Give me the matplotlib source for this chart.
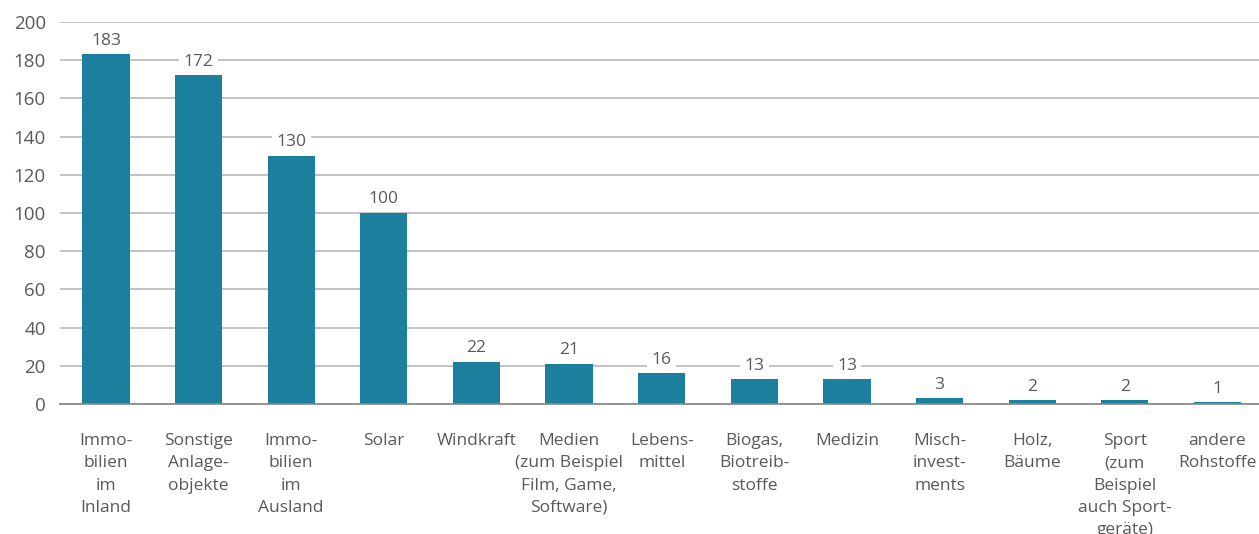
import matplotlib.pyplot as plt
import numpy as np

plt.rcParams['font.family'] = ['Open Sans', 'DejaVu Sans']

# Daten
kategorien = [
    "Immo-\nbilien\nim\nInland",
    "Sonstige\nAnlage-\nobjekte",
    "Immo-\nbilien\nim\nAusland",
    "Solar",
    "Windkraft",
    "Medien\n(zum Beispiel\nFilm, Game,\nSoftware)",
    "Lebens-\nmittel",
    "Biogas,\nBiotreib-\nstoffe",
    "Medizin",
    "Misch-\ninvest-\nments",
    "Holz,\nBäume",
    "Sport\n(zum\nBeispiel\nauch Sport-\ngeräte)",
    "andere\nRohstoffe",
]
werte = [183, 172, 130, 100, 22, 21, 16, 13, 13, 3, 2, 2, 1]
y_ticks = [0, 20, 40, 60, 80, 100, 120, 140, 160, 180, 200]

farbe = "#1a809e"
textfarbe = "#595959"

fig = plt.figure(figsize=(12.59, 5.34), dpi=100)
ax = fig.add_axes([59.7 / 1259, 130 / 534, 1204 / 1259, 382 / 534])

x = np.arange(len(werte))
ax.bar(x, werte, width=0.51, color=farbe, zorder=3)

# Werte über den Balken
for xi, w in zip(x, werte):
    ax.annotate(str(w), (xi, w), xytext=(0, 4), textcoords="offset points",
                ha="center", va="bottom", fontsize=12.5, color=textfarbe,
                bbox=dict(boxstyle="square,pad=0.25", fc="white", ec="none"),
                zorder=4)

ax.set_xlim(-0.5, len(werte) - 0.5)
ax.set_ylim(0, 200)
ax.set_yticks(y_ticks)
ax.set_xticks(x)
ax.set_xticklabels(kategorien, fontsize=12.5, color=textfarbe, linespacing=1.52,
                   va="top")
ax.tick_params(axis="x", length=0, pad=21)
ax.tick_params(axis="y", length=0, pad=10, labelsize=13.5, labelcolor=textfarbe)
for lbl in ax.get_yticklabels():
    lbl.set_color(textfarbe)

# Gitterlinien
ax.yaxis.grid(True, color="#b3b3b3", linewidth=1.1, zorder=0)
ax.set_axisbelow(True)
for s in ["top", "right", "left"]:
    ax.spines[s].set_visible(False)
ax.spines["bottom"].set_color("#8c8c8c")
ax.spines["bottom"].set_linewidth(1.3)
ax.spines["bottom"].set_zorder(5)

fig.savefig("out.png", dpi=100)
